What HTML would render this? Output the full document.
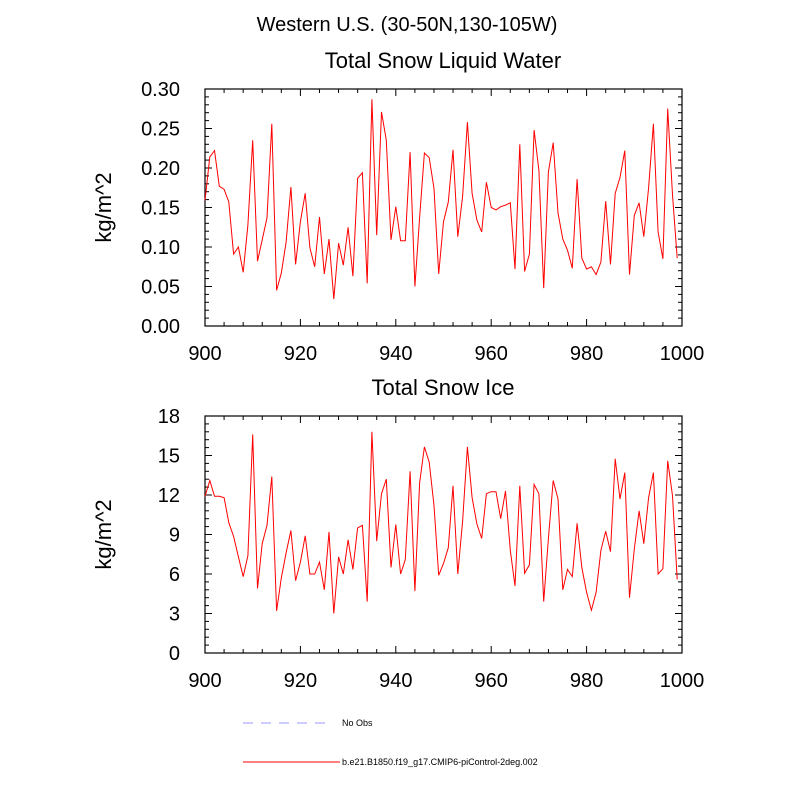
<!DOCTYPE html>
<html><head><meta charset="utf-8">
<style>
html,body{margin:0;padding:0;background:#fff;}
svg{display:block;font-family:"Liberation Sans",sans-serif;}
</style></head>
<body>
<svg id="chart" width="800" height="800" viewBox="0 0 800 800" xmlns="http://www.w3.org/2000/svg">
<text x="407" y="31" font-size="20" text-anchor="middle">Western U.S. (30-50N,130-105W)</text>
<g id="p1"></g>
<g id="p2"></g>
<g>
<line x1="243" y1="723" x2="330" y2="723" stroke="#9999ff" stroke-width="1" stroke-dasharray="10,8"/>
<text x="342" y="726" font-size="9">No Obs</text>
<line x1="243" y1="762" x2="340" y2="762" stroke="#ff0000" stroke-width="1"/>
<text x="342" y="765" font-size="9">b.e21.B1850.f19_g17.CMIP6-piControl-2deg.002</text>
</g>
</svg>
<script>
const years = Array.from({length:100},(_, i)=>900+i);
const xTicks = [900,920,940,960,980,1000];
const liquidTicks = ["0.00","0.05","0.10","0.15","0.20","0.25","0.30"];
const iceTicks = ["0","3","6","9","12","15","18"];
const liquidValues = [0.159,0.214,0.222,0.177,0.173,0.157,0.091,0.100,0.068,0.128,
0.235,0.082,0.109,0.137,0.256,0.045,0.067,0.106,0.176,0.078,
0.132,0.168,0.099,0.075,0.138,0.066,0.110,0.034,0.105,0.077,
0.125,0.063,0.187,0.194,0.054,0.287,0.115,0.271,0.235,0.109,
0.151,0.108,0.108,0.220,0.050,0.137,0.219,0.213,0.174,0.066,
0.132,0.157,0.223,0.113,0.164,0.258,0.168,0.134,0.119,0.182,
0.150,0.147,0.151,0.153,0.156,0.072,0.230,0.069,0.091,0.248,
0.197,0.048,0.195,0.232,0.143,0.110,0.096,0.073,0.186,0.086,
0.072,0.075,0.065,0.081,0.158,0.078,0.168,0.188,0.222,0.065,
0.140,0.156,0.113,0.175,0.256,0.119,0.085,0.275,0.166,0.086];
const iceValues = [11.9,13.1,11.9,11.9,11.8,9.9,8.85,7.3,5.8,7.4,
16.6,4.9,8.3,9.7,13.4,3.2,5.7,7.6,9.3,5.5,
6.9,8.9,6.0,6.0,6.9,4.8,9.2,3.0,7.3,6.0,
8.6,6.35,9.5,9.7,3.9,16.8,8.5,12.1,13.2,6.5,
9.75,6.0,7.1,13.8,4.7,12.9,15.65,14.5,11.2,5.9,
6.8,8.0,12.7,6.0,10.0,15.65,11.8,9.8,8.7,12.1,
12.25,12.25,10.2,12.3,7.8,5.1,12.7,6.05,6.7,12.8,
12.1,3.9,8.7,13.1,11.7,4.8,6.35,5.8,9.85,6.5,
4.6,3.25,4.6,7.8,9.25,7.7,14.75,11.7,13.7,4.2,
7.9,10.8,8.3,11.8,13.7,6.0,6.4,14.6,11.95,5.6];

const NS="http://www.w3.org/2000/svg";
function mk(parent,tag,attrs){const e=document.createElementNS(NS,tag);for(const k in attrs)e.setAttribute(k,attrs[k]);parent.appendChild(e);return e;}

function panel(g,top,title,tickLabels,vals,prefix){
  const L=205,R=682,T=top,B=top+237;
  const ymin=parseFloat(tickLabels[0]),ymax=parseFloat(tickLabels[tickLabels.length-1]);
  const xs=v=>L+(v-900)/100*(R-L);
  const ys=v=>B-(v-ymin)/(ymax-ymin)*(B-T);
  const t=mk(g,'text',{x:443,y:T-21,'font-size':22,'text-anchor':'middle'});
  t.textContent=title;
  
  
  const yt=mk(g,'text',{transform:`translate(111,${(T+B)/2}) rotate(-90)`,'font-size':22,'text-anchor':'middle'});
  yt.textContent='kg/m^2';
  
  
  // minor ticks y
  const nMaj=tickLabels.length-1;
  for(let i=0;i<=nMaj*5;i++){
    const y=B-i*(B-T)/(nMaj*5);
    const len=(i%5===0)?7:4;
    mk(g,'line',{x1:L,y1:y,x2:L+len,y2:y,stroke:'#000','stroke-width':1});
    mk(g,'line',{x1:R,y1:y,x2:R-len,y2:y,stroke:'#000','stroke-width':1});
  }
  for(let i=0;i<=25;i++){
    const x=L+i*(R-L)/25;
    const len=(i%5===0)?7:4;
    mk(g,'line',{x1:x,y1:B,x2:x,y2:B-len,stroke:'#000','stroke-width':1});
    mk(g,'line',{x1:x,y1:T,x2:x,y2:T+len,stroke:'#000','stroke-width':1});
  }
  tickLabels.forEach(lb=>{
    const e=mk(g,'text',{x:180,y:ys(parseFloat(lb))+7,'font-size':20,'text-anchor':'end'});
    e.textContent=lb;
    
    
  });
  xTicks.forEach(v=>{
    const e=mk(g,'text',{x:xs(v),y:B+34,'font-size':20,'text-anchor':'middle'});
    e.textContent=v;
    
    
  });
  const fr=mk(g,'rect',{x:L,y:T,width:R-L,height:B-T,fill:'none',stroke:'#000','stroke-width':1.2});
  
  
  const pts=years.map((yr,i)=>xs(yr).toFixed(1)+','+ys(vals[i]).toFixed(1)).join(' ');
  const pl=mk(g,'polyline',{points:pts,fill:'none',stroke:'#ff0000','stroke-width':1});
  
  
}
panel(document.getElementById('p1'),89,'Total Snow Liquid Water',liquidTicks,liquidValues,'liquid-water');
panel(document.getElementById('p2'),416,'Total Snow Ice',iceTicks,iceValues,'snow-ice');
</script>
</body></html>
